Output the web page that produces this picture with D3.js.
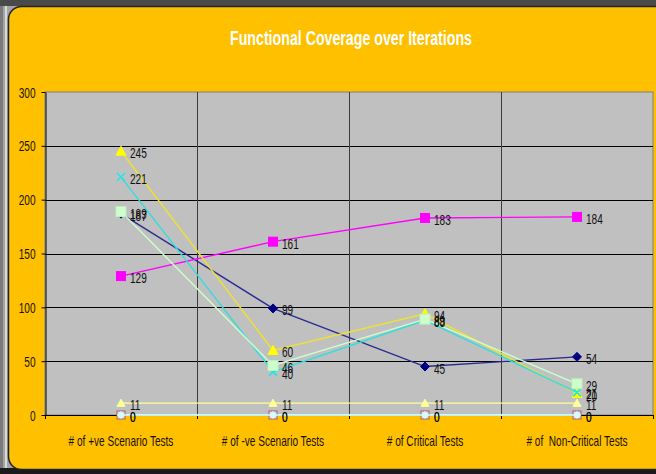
<!DOCTYPE html>
<html>
<head>
<meta charset="utf-8">
<script src="https://cdn.jsdelivr.net/npm/d3@7"></script>
<style>
  html, body { margin: 0; padding: 0; background: #a4a4a4; }
  svg { display: block; }
  text { font-family: "Liberation Sans", Arial, sans-serif; }
</style>
</head>
<body>
<svg id="chart" width="656" height="474"></svg>
<script>
// ---- data ----
const title = "Functional Coverage over Iterations";
const categories = ["# of +ve Scenario Tests", "# of -ve Scenario Tests", "# of Critical Tests", "# of  Non-Critical Tests"];
const yTicks = [0, 50, 100, 150, 200, 250, 300];
const seriesNames = ["S1", "S2", "S3", "S4", "S5", "S6", "S7", "S8"];
const s1Values = [187, 99, 45, 54];
const s2Values = [129, 161, 183, 184];
const s3Values = [245, 60, 94, 20];
const s4Values = [221, 40, 88, 21];
const s5Values = [189, 46, 89, 29];
const s6Values = [11, 11, 11, 11];
const s7Values = [0, 0, 0, 0];
const s8Values = [0, 0, 0, 0];

// ---- styles ----
const styles = [
  { line: "#2a2a90", fill: "#000080", stroke: "#000080", marker: "diamond", size: 4.5 },
  { line: "#ff00ff", fill: "#ff00ff", stroke: "#ff00ff", marker: "square", size: 4.5 },
  { line: "#eee22e", fill: "#ffff00", stroke: "#ffff00", marker: "triangle", size: 5 },
  { line: "#30dede", fill: "none", stroke: "#20e8e8", marker: "x", size: 4 },
  { line: "#ccffcc", fill: "#ccffcc", stroke: "#bfefbf", marker: "square", size: 5 },
  { line: "#ffff99", fill: "#ffff99", stroke: "#ffff99", marker: "triangle", size: 4 },
  { line: "#ccffff", fill: "#e8dada", stroke: "#b05a6a", marker: "square", size: 4 },
  { line: "#ccffff", fill: "#ccffff", stroke: "#ccffff", marker: "diamond", size: 3.5 }
];
const allValues = [s1Values, s2Values, s3Values, s4Values, s5Values, s6Values, s7Values, s8Values];
const series = seriesNames.map((n, i) => ({ name: n, values: allValues[i], style: styles[i] }));

const svg = d3.select("#chart");
const W = 656, H = 474;
const SX = 0.72;

// background frame
svg.append("rect").attr("x", 0).attr("y", 0).attr("width", W).attr("height", 6).attr("fill", "#4a4a4a");
svg.append("rect").attr("x", 0).attr("y", 6).attr("width", 3).attr("height", H).attr("fill", "#7a7a7a");
svg.append("rect").attr("x", 5).attr("y", 6).attr("width", 2).attr("height", H).attr("fill", "#d8d8d8");
svg.append("rect").attr("x", 0).attr("y", 468).attr("width", W).attr("height", 6).attr("fill", "#1a1a1a");
svg.append("rect")
  .attr("x", 8.5).attr("y", 6.5).attr("width", 680).attr("height", 463)
  .attr("rx", 13).attr("ry", 13)
  .attr("fill", "#ffc000").attr("stroke", "#222").attr("stroke-width", 1.5);

// scales
const plot = { left: 45, right: 653, top: 92, bottom: 415 };
const x = d3.scaleBand().domain(categories).range([plot.left, plot.right]);
const y = d3.scaleLinear().domain([0, 300]).range([plot.bottom, plot.top]);

// plot area
svg.append("rect")
  .attr("x", plot.left).attr("y", plot.top)
  .attr("width", plot.right - plot.left).attr("height", plot.bottom - plot.top)
  .attr("fill", "#c0c0c0").attr("stroke", "#808080").attr("stroke-width", 1);

// horizontal gridlines
svg.append("g").selectAll("line").data(yTicks.filter(t => t > 0 && t < 300)).join("line")
  .attr("x1", plot.left).attr("x2", plot.right)
  .attr("y1", d => Math.round(y(d)) + 0.5).attr("y2", d => Math.round(y(d)) + 0.5)
  .attr("stroke", "#000").attr("stroke-width", 1);

// vertical gridlines at category boundaries
const boundaries = categories.slice(1).map(c => x(c));
svg.append("g").selectAll("line").data(boundaries).join("line")
  .attr("x1", d => Math.round(d) + 0.5).attr("x2", d => Math.round(d) + 0.5)
  .attr("y1", plot.top).attr("y2", plot.bottom)
  .attr("stroke", "#3a3a3a").attr("stroke-width", 1);

// y axis
const yAxis = svg.append("g")
  .attr("transform", `translate(${plot.left + 0.5},0)`)
  .call(d3.axisLeft(y).tickValues(yTicks).tickSize(4).tickSizeOuter(0).tickFormat(d3.format("d")));
yAxis.select(".domain").attr("stroke", "#000");
yAxis.selectAll(".tick line").attr("stroke", "#000");
yAxis.selectAll(".tick text").remove();
yAxis.selectAll(".tick").each(function(d) {
  d3.select(this).append("text")
    .attr("transform", `translate(-10,0) scale(${SX},1)`)
    .attr("text-anchor", "end").attr("dy", "0.36em")
    .attr("font-size", 14).attr("fill", "#1a1200")
    .text(d);
});

// x axis
const xAxisG = svg.append("g");
xAxisG.append("line")
  .attr("x1", plot.left).attr("x2", plot.right)
  .attr("y1", plot.bottom + 0.5).attr("y2", plot.bottom + 0.5)
  .attr("stroke", "#000");
const tickXs = categories.map(c => x(c)).concat([x(categories[categories.length - 1]) + x.bandwidth()]);
xAxisG.selectAll("line.t").data(tickXs).join("line").attr("class", "t")
  .attr("x1", d => Math.round(d) + 0.5).attr("x2", d => Math.round(d) + 0.5)
  .attr("y1", plot.bottom).attr("y2", plot.bottom + 4)
  .attr("stroke", "#000");
xAxisG.selectAll("text").data(categories).join("text")
  .attr("transform", d => `translate(${x(d) + x.bandwidth() / 2},${plot.bottom + 26}) scale(${SX},1)`)
  .attr("text-anchor", "middle").attr("dy", "0.36em")
  .attr("font-size", 14).attr("fill", "#1a1200")
  .attr("xml:space", "preserve").style("white-space", "pre")
  .text(d => d);

// title
svg.append("text")
  .attr("x", 351).attr("y", 38).attr("dy", "0.36em")
  .attr("text-anchor", "middle")
  .attr("font-size", 20).attr("font-weight", "bold").attr("fill", "#fff")
  .attr("textLength", 242).attr("lengthAdjust", "spacingAndGlyphs")
  .text(title);

// series
const cx = c => x(c) + x.bandwidth() / 2;
const lineGen = d3.line().x(d => cx(d.cat)).y(d => y(d.v));

function drawMarker(g, m, px, py) {
  const s = m.size;
  if (m.marker === "diamond") {
    g.append("path").attr("d", `M${px},${py - s}L${px + s},${py}L${px},${py + s}L${px - s},${py}Z`)
      .attr("fill", m.fill).attr("stroke", m.stroke).attr("stroke-width", 1);
  } else if (m.marker === "square") {
    g.append("rect").attr("x", px - s).attr("y", py - s).attr("width", 2 * s).attr("height", 2 * s)
      .attr("fill", m.fill).attr("stroke", m.stroke).attr("stroke-width", 1);
  } else if (m.marker === "triangle") {
    g.append("path").attr("d", `M${px},${py - s}L${px + s},${py + s * 0.8}L${px - s},${py + s * 0.8}Z`)
      .attr("fill", m.fill).attr("stroke", m.stroke).attr("stroke-width", 1);
  } else if (m.marker === "x") {
    g.append("path").attr("d", `M${px - s},${py - s}L${px + s},${py + s}M${px + s},${py - s}L${px - s},${py + s}`)
      .attr("fill", "none").attr("stroke", m.stroke).attr("stroke-width", 1.6);
  }
}

const seriesG = svg.append("g");
series.forEach(s => {
  const pts = s.values.map((v, i) => ({ cat: categories[i], v }));
  const g = seriesG.append("g");
  g.append("path").attr("d", lineGen(pts))
    .attr("fill", "none").attr("stroke", s.style.line).attr("stroke-width", 1.4);
  pts.forEach(p => drawMarker(g, s.style, cx(p.cat), y(p.v)));
});

// data labels
const labelG = svg.append("g");
series.forEach(s => {
  s.values.forEach((v, i) => {
    const px = cx(categories[i]), py = y(v);
    labelG.append("text")
      .attr("transform", `translate(${px + 9},${py + 2}) scale(${SX},1)`)
      .attr("dy", "0.36em")
      .attr("font-size", 14).attr("fill", "#111")
      .text(v);
  });
});
</script>
</body>
</html>
